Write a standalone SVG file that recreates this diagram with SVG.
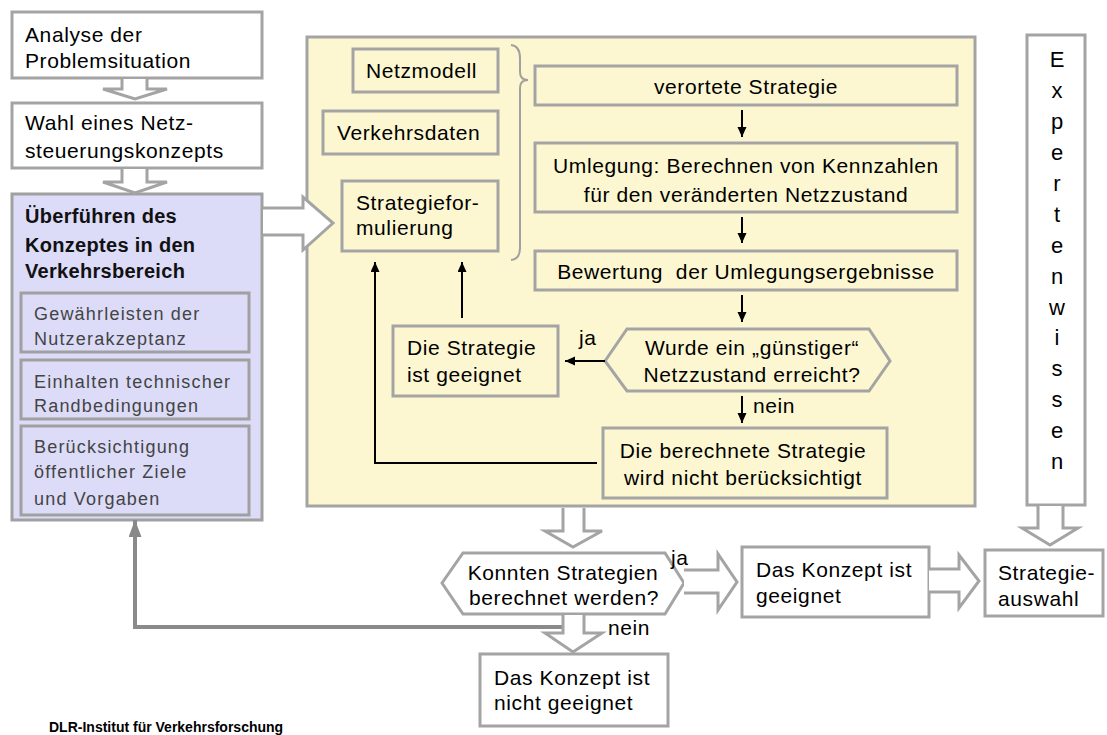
<svg xmlns="http://www.w3.org/2000/svg" width="1107" height="735" viewBox="0 0 1107 735">
<defs>
<style>
.t{font-family:"Liberation Sans",Arial,sans-serif;font-size:21px;letter-spacing:0.6px;fill:#000}
.tb{font-family:"Liberation Sans",Arial,sans-serif;font-size:20px;font-weight:bold;letter-spacing:0.3px;fill:#111}
.ts{font-family:"Liberation Sans",Arial,sans-serif;font-size:18px;letter-spacing:1.2px;fill:#444}
.tx{font-family:"Liberation Sans",Arial,sans-serif;font-size:22px;fill:#000;text-anchor:middle}
.m{text-anchor:middle}
.box{fill:#fff;stroke:#a4a4a4;stroke-width:3}
.ybox{fill:#fcf7d0;stroke:#a4a4a4;stroke-width:3}
.bbox{fill:#dcdcf9;stroke:#a0a0a0;stroke-width:3}
.hol{fill:#fff;stroke:#a4a4a4;stroke-width:3;stroke-linejoin:miter}
.blk{fill:none;stroke:#000;stroke-width:2}
</style>
<marker id="ah" markerUnits="userSpaceOnUse" markerWidth="10" markerHeight="10" refX="10" refY="4.5" orient="auto">
<path d="M0,0 L10,4.5 L0,9 z" fill="#000"/>
</marker>
<marker id="gh" markerUnits="userSpaceOnUse" markerWidth="18" markerHeight="14" refX="17" refY="6.5" orient="auto">
<path d="M0,0 L17,6.5 L0,13 z" fill="#888"/>
</marker>
</defs>
<rect width="1107" height="735" fill="#fff"/>

<g id="analyse">
<rect class="box" x="12" y="12" width="250" height="66"/>
<text class="t" x="25" y="42">Analyse der</text>
<text class="t" x="25" y="68">Problemsituation</text>
</g>
<g id="wahl">
<rect class="box" x="12" y="103" width="250" height="65"/>
<text class="t" x="25" y="130">Wahl eines Netz-</text>
<text class="t" x="25" y="158">steuerungskonzepts</text>
</g>
<g id="ueberfuehren">
<rect class="bbox" x="12" y="194" width="250" height="326"/>
<text class="tb" x="25" y="223">Überführen des</text>
<text class="tb" x="25" y="252">Konzeptes in den</text>
<text class="tb" x="25" y="278">Verkehrsbereich</text>
<rect class="bbox" x="21" y="293" width="228" height="59"/>
<text class="ts" x="34" y="320">Gewährleisten der</text>
<text class="ts" x="34" y="345">Nutzerakzeptanz</text>
<rect class="bbox" x="21" y="360" width="228" height="59"/>
<text class="ts" x="34" y="388">Einhalten technischer</text>
<text class="ts" x="34" y="412">Randbedingungen</text>
<rect class="bbox" x="21" y="426" width="228" height="89"/>
<text class="ts" x="34" y="453">Berücksichtigung</text>
<text class="ts" x="34" y="478">öffentlicher Ziele</text>
<text class="ts" x="34" y="505">und Vorgaben</text>
</g>

<g id="bereich">
<rect class="ybox" x="307" y="37" width="668" height="469"/>
</g>
<g id="netzmodell">
<rect class="ybox" x="353" y="49" width="145" height="43"/>
<text class="t" x="366" y="78">Netzmodell</text>
</g>
<g id="verkehrsdaten">
<rect class="ybox" x="323" y="111" width="175" height="43"/>
<text class="t" x="337" y="140">Verkehrsdaten</text>
</g>
<g id="strategieformulierung">
<rect class="ybox" x="342" y="181" width="156" height="70"/>
<text class="t" x="356" y="210">Strategiefor-</text>
<text class="t" x="356" y="235">mulierung</text>
</g>
<g id="klammer">
<path d="M511,45 Q520,46 520,58 L520,72 Q520,80 528,80 Q520,80 520,88 L520,248 Q520,259 511,260" fill="none" stroke="#a0a0a0" stroke-width="2"/>
</g>
<g id="verortet">
<rect class="ybox" x="535" y="66" width="422" height="39"/>
<text class="t m" x="746" y="94">verortete Strategie</text>
</g>
<g id="umlegung">
<rect class="ybox" x="535" y="143" width="422" height="69"/>
<text class="t m" x="746" y="173">Umlegung: Berechnen von Kennzahlen</text>
<text class="t m" x="746" y="202">für den veränderten Netzzustand</text>
</g>
<g id="bewertung">
<rect class="ybox" x="535" y="251" width="422" height="39"/>
<text class="t m" x="746" y="279" xml:space="preserve">Bewertung  der Umlegungsergebnisse</text>
</g>
<g id="frage1">
<polygon class="ybox" points="605,361 627,329 869,329 890,361 869,391 627,391"/>
<text class="t m" x="752" y="355">Wurde ein „günstiger“</text>
<text class="t m" x="752" y="382">Netzzustand erreicht?</text>
</g>
<g id="geeignet">
<rect class="ybox" x="393" y="326" width="165" height="70"/>
<text class="t" x="407" y="355">Die Strategie</text>
<text class="t" x="407" y="382">ist geeignet</text>
</g>
<g id="nichtberuecksichtigt">
<rect class="ybox" x="603" y="428" width="284" height="70"/>
<text class="t m" x="743" y="458">Die berechnete Strategie</text>
<text class="t m" x="743" y="485">wird nicht berücksichtigt</text>
</g>

<g id="expertenwissen">
<rect class="box" x="1027" y="35" width="58" height="470"/>
<text class="tx" x="1057" y="67">E</text>
<text class="tx" x="1057" y="98">x</text>
<text class="tx" x="1057" y="129">p</text>
<text class="tx" x="1057" y="160">e</text>
<text class="tx" x="1057" y="191">r</text>
<text class="tx" x="1057" y="222">t</text>
<text class="tx" x="1057" y="253">e</text>
<text class="tx" x="1057" y="284">n</text>
<text class="tx" x="1057" y="315">w</text>
<text class="tx" x="1057" y="345">i</text>
<text class="tx" x="1057" y="376">s</text>
<text class="tx" x="1057" y="407">s</text>
<text class="tx" x="1057" y="438">e</text>
<text class="tx" x="1057" y="469">n</text>
</g>

<g id="frage2">
<polygon class="box" points="442,583 463,553 665,553 684,583 665,614 463,614"/>
<text class="t m" x="563" y="580">Konnten Strategien</text>
<text class="t m" x="564" y="605">berechnet werden?</text>
</g>
<g id="konzeptgeeignet">
<rect class="box" x="742" y="547" width="187" height="70"/>
<text class="t" x="756" y="577">Das Konzept ist</text>
<text class="t" x="756" y="603">geeignet</text>
</g>
<g id="strategieauswahl">
<rect class="box" x="985" y="550" width="118" height="66"/>
<text class="t" x="998" y="580">Strategie-</text>
<text class="t" x="998" y="606">auswahl</text>
</g>
<g id="konzeptnichtgeeignet">
<rect class="box" x="480" y="654" width="188" height="72"/>
<text class="t" x="494" y="685">Das Konzept ist</text>
<text class="t" x="494" y="710">nicht geeignet</text>
</g>

<g id="connectors">
<path class="hol" d="M122,79 V89 H103 L135,99 L167,89 H147 V79"/>
<path class="hol" d="M122,169 V182 H103 L135,193 L167,182 H147 V169"/>
<path class="hol" d="M263,208 H303 V197 L333,223 L303,250 V235 H263"/>
<line class="blk" x1="742" y1="110" x2="742" y2="137" marker-end="url(#ah)"/>
<line class="blk" x1="742" y1="217" x2="742" y2="243" marker-end="url(#ah)"/>
<line class="blk" x1="742" y1="295" x2="742" y2="322" marker-end="url(#ah)"/>
<line class="blk" x1="742" y1="396" x2="742" y2="423" marker-end="url(#ah)"/>
<line class="blk" x1="605" y1="361" x2="565" y2="361" marker-end="url(#ah)"/>
<line class="blk" x1="462" y1="318" x2="462" y2="262" marker-end="url(#ah)"/>
<polyline class="blk" points="597,463 375,463 375,262" marker-end="url(#ah)"/>
<text class="t" x="579" y="345">ja</text>
<text class="t" x="753" y="413">nein</text>
<path class="hol" d="M563,508 V531 H545 L573,547 L602,531 H584 V508"/>
<path d="M563,627 H135 V520" fill="none" stroke="#8a8a8a" stroke-width="4" marker-end="url(#gh)"/>
<path class="hol" d="M563,615 V633 H545 L573,652 L602,633 H584 V615"/>
<path class="hol" d="M684,570 H718 V554 L737,582 L718,610 V593 H684"/>
<path class="hol" d="M929,569 H959 V555 L979,581 L959,608 V592 H929"/>
<path class="hol" d="M1038,506 V528 H1022 L1050,545 L1078,528 H1063 V506"/>
<text class="t" x="671" y="565">ja</text>
<text class="t" x="608" y="635">nein</text>
</g>

<text x="49" y="732" font-family="Liberation Sans,Arial,sans-serif" font-size="14" font-weight="bold" fill="#000">DLR-Institut für Verkehrsforschung</text>
</svg>
